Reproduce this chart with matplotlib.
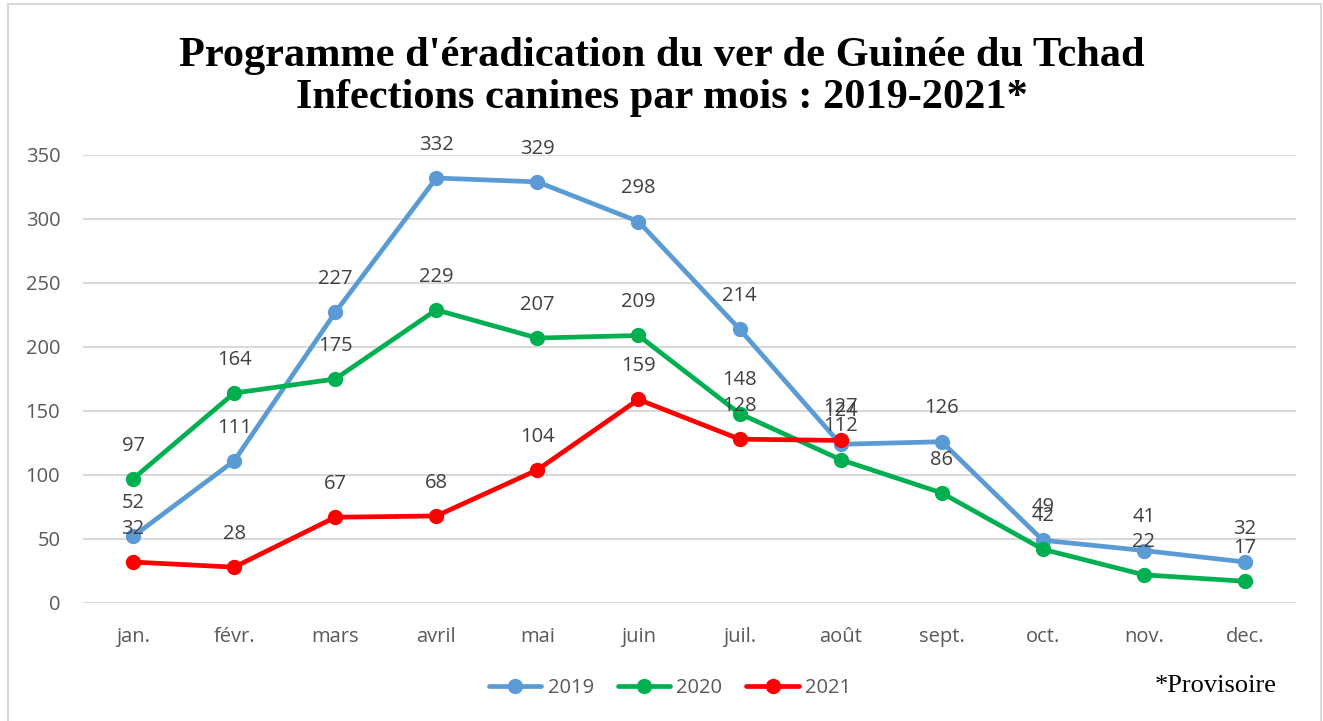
import matplotlib.pyplot as plt
from matplotlib.patches import Rectangle

months = ['jan.', 'févr.', 'mars', 'avril', 'mai', 'juin', 'juil.', 'août',
          'sept.', 'oct.', 'nov.', 'dec.']
cases_2019 = [52, 111, 227, 332, 329, 298, 214, 124, 126, 49, 41, 32]
cases_2020 = [97, 164, 175, 229, 207, 209, 148, 112, 86, 42, 22, 17]
cases_2021 = [32, 28, 67, 68, 104, 159, 128, 127]
y_ticks = [0, 50, 100, 150, 200, 250, 300, 350]

series = [('2019', cases_2019, '#5B9BD5'),
          ('2020', cases_2020, '#00B050'),
          ('2021', cases_2021, '#FF0000')]

W, H = 1323, 721
fig = plt.figure(figsize=(W / 100, H / 100), dpi=100)

# light grey frame around the chart
fig.patches.append(Rectangle((8 / W, -0.05), (1321 - 8) / W, 1.05 - 4 / H,
                             transform=fig.transFigure, fill=False,
                             edgecolor='#D9D9D9', linewidth=1.5))

ax = fig.add_axes([82.5 / W, 1 - 603 / H, (1295.5 - 82.5) / W, (603 - 155) / H])
ax.set_xlim(-0.5, len(months) - 0.5)
ax.set_ylim(0, 350)

font = 'Open Sans'
grey = '#595959'

for name, vals, color in series:
    x = list(range(len(vals)))
    ax.plot(x, vals, color=color, linewidth=3.4, marker='o', markersize=10,
            label=name, solid_capstyle='round', zorder=3)
    for xi, v in zip(x, vals):
        ax.annotate(str(v), (xi, v), xytext=(0, 24), textcoords='offset points',
                    ha='center', va='center', fontsize=14.5, color='#404040',
                    family=font, zorder=4)

ax.set_yticks(y_ticks)
ax.set_xticks(range(len(months)))
ax.set_xticklabels(months)
ax.grid(axis='y', color='#D9D9D9', linewidth=1.5)
ax.set_axisbelow(True)
for s in ax.spines.values():
    s.set_visible(False)
ax.tick_params(length=0, labelsize=14.5, labelcolor=grey)
for lab in ax.get_xticklabels() + ax.get_yticklabels():
    lab.set_family(font)
ax.tick_params(axis='x', pad=17)
ax.tick_params(axis='y', pad=16)

fig.text(0.5, 1 - 77 / H, "Programme d'éradication du ver de Guinée du Tchad\n"
         "Infections canines par mois : 2019-2021*",
         ha='center', va='center', fontsize=30.5, fontweight='bold',
         family='Liberation Serif', linespacing=1.15)

fig.legend(loc='center', bbox_to_anchor=(670 / W, 1 - 688 / H), ncol=3,
           frameon=False, prop={'family': font, 'size': 14.5},
           labelcolor=grey, handlelength=2.6, columnspacing=1.2,
           handletextpad=0.3)

fig.text(1216 / W, 1 - 686 / H, '*Provisoire', ha='center', va='center',
         fontsize=19, family='Liberation Serif')

fig.savefig('out.png', dpi=100)
